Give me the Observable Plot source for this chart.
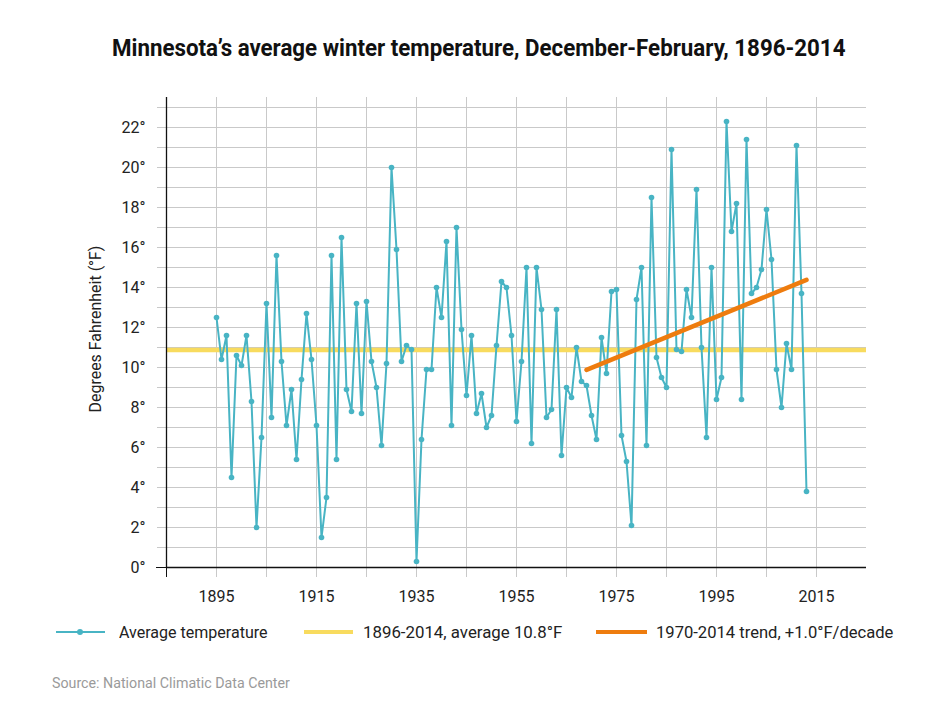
<!DOCTYPE html>
<html><head><meta charset="utf-8">
<script src="https://cdn.jsdelivr.net/npm/d3@7"></script>
<script src="https://cdn.jsdelivr.net/npm/@observablehq/plot@0.6"></script>
<style>
body{margin:0;background:#fff;font-family:Roboto,"DejaVu Sans Condensed",sans-serif;color:#222;}
#wrap{position:relative;width:952px;height:714px;overflow:hidden;background:#fff}
#chart{position:absolute;top:0;left:0}
#title{position:absolute;top:35px;left:112px;font-weight:bold;font-size:23px;line-height:28px;color:#111;white-space:nowrap;transform-origin:0 50%}
#ylabel{position:absolute;left:95px;top:329px;font-size:17px;line-height:20px;white-space:nowrap}
.lg{position:absolute;top:621px;height:22px;line-height:22px;font-size:17px;white-space:nowrap;transform-origin:0 50%}
.sw{position:absolute;height:4px;top:630px}
#dot{position:absolute;width:6px;height:6px;border-radius:3px;top:629px;left:77px}
#source{position:absolute;left:52px;top:673px;font-size:15px;line-height:20px;color:#9a9a9a;white-space:nowrap;transform-origin:0 50%}
</style></head>
<body>
<div id="wrap">
<div id="chart"></div>
<div id="title">Minnesota’s average winter temperature, December-February, 1896-2014</div>
<div id="ylabel">Degrees Fahrenheit (°F)</div>
<div class="sw" id="sw1" style="left:56px;width:49px;height:2px;top:631px"></div>
<div id="dot"></div>
<div class="lg" id="lg1" style="left:119px">Average temperature</div>
<div class="sw" id="sw2" style="left:304px;width:49px"></div>
<div class="lg" id="lg2" style="left:363px">1896-2014, average 10.8°F</div>
<div class="sw" id="sw3" style="left:596px;width:51px"></div>
<div class="lg" id="lg3" style="left:656px">1970-2014 trend, +1.0°F/decade</div>
<div id="source">Source: National Climatic Data Center</div>
</div>
<script>
const years = [1895,1896,1897,1898,1899,1900,1901,1902,1903,1904,1905,1906,1907,1908,1909,1910,1911,1912,1913,1914,
1915,1916,1917,1918,1919,1920,1921,1922,1923,1924,1925,1926,1927,1928,1929,1930,1931,1932,1933,1934,
1935,1936,1937,1938,1939,1940,1941,1942,1943,1944,1945,1946,1947,1948,1949,1950,1951,1952,1953,1954,
1955,1956,1957,1958,1959,1960,1961,1962,1963,1964,1965,1966,1967,1968,1969,1970,1971,1972,1973,1974,
1975,1976,1977,1978,1979,1980,1981,1982,1983,1984,1985,1986,1987,1988,1989,1990,1991,1992,1993,1994,
1995,1996,1997,1998,1999,2000,2001,2002,2003,2004,2005,2006,2007,2008,2009,2010,2011,2012,2013];
const temps = [12.5,10.4,11.6,4.5,10.6,10.1,11.6,8.3,2.0,6.5,13.2,7.5,15.6,10.3,7.1,8.9,5.4,9.4,12.7,10.4,
7.1,1.5,3.5,15.6,5.4,16.5,8.9,7.8,13.2,7.7,13.3,10.3,9.0,6.1,10.2,20.0,15.9,10.3,11.1,10.9,
0.3,6.4,9.9,9.9,14.0,12.5,16.3,7.1,17.0,11.9,8.6,11.6,7.7,8.7,7.0,7.6,11.1,14.3,14.0,11.6,
7.3,10.3,15.0,6.2,15.0,12.9,7.5,7.9,12.9,5.6,9.0,8.5,11.0,9.3,9.1,7.6,6.4,11.5,9.7,13.8,
13.9,6.6,5.3,2.1,13.4,15.0,6.1,18.5,10.5,9.5,9.0,20.9,10.9,10.8,13.9,12.5,18.9,11.0,6.5,15.0,
8.4,9.5,22.3,16.8,18.2,8.4,21.4,13.7,14.0,14.9,17.9,15.4,9.9,8.0,11.2,9.9,21.1,13.7,3.8];
const averageValue = [10.87];
const trendYears = [1969, 2013];
const trendValues = [9.88, 14.38];
const xGridYears = [1895,1905,1915,1925,1935,1945,1955,1965,1975,1985,1995,2005,2015];
const xLabelYears = [1895,1915,1935,1955,1975,1995,2015];
const yGridTemps = [1,2,3,4,5,6,7,8,9,10,11,12,13,14,15,16,17,18,19,20,21,22,23];
const yLabelTemps = [0,2,4,6,8,10,12,14,16,18,20,22];

const teal = "#48b4c4", yellow = "#f8db5e", orange = "#ee7c0e", grid = "#c9c9c9";
document.getElementById("sw1").style.background = teal;
document.getElementById("dot").style.background = teal;
document.getElementById("sw2").style.background = yellow;
document.getElementById("sw3").style.background = orange;

const series = years.map((y, i) => ({year: y, temp: temps[i]}));
const trend = trendYears.map((y, i) => ({year: y, temp: trendValues[i]}));

const chart = Plot.plot({
  width: 952, height: 620,
  marginTop: 97, marginBottom: 53, marginLeft: 166, marginRight: 86,
  x: {domain: [1885, 2025]},
  y: {domain: [0, 23.5]},
  style: {fontFamily: 'Roboto,"DejaVu Sans Condensed",sans-serif', fontSize: "16px", color: "#222", background: "transparent"},
  marks: [
    Plot.gridX(xGridYears, {stroke: grid, strokeOpacity: 1, strokeWidth: 1}),
    Plot.gridY(yGridTemps, {stroke: grid, strokeOpacity: 1, strokeWidth: 1}),
    Plot.axisY({ticks: yGridTemps, tickSize: 9, stroke: grid, strokeOpacity: 1, tickFormat: () => "", label: null}),
    Plot.axisX({ticks: xGridYears, tickSize: 10, stroke: grid, strokeOpacity: 1, tickFormat: () => "", label: null}),
    Plot.axisY({ticks: yLabelTemps, tickSize: 0, tickPadding: 21, tickFormat: d => d + "°", label: null, fontSize: 16}),
    Plot.axisX({ticks: xLabelYears, tickSize: 0, tickPadding: 23, tickFormat: d => String(d), label: null, fontSize: 16}),
    Plot.axisY({ticks: [0], tickSize: 10, stroke: "#111", strokeOpacity: 1, tickFormat: () => "", label: null}),
    Plot.axisX({ticks: [1885], tickSize: 10, stroke: "#111", strokeOpacity: 1, tickFormat: () => "", label: null}),
    Plot.ruleY(averageValue, {stroke: yellow, strokeWidth: 4.5}),
    Plot.ruleX([1885], {stroke: "#111", strokeWidth: 1.3}),
    Plot.ruleY([0], {stroke: "#111", strokeWidth: 1.3}),
    Plot.line(series, {x: "year", y: "temp", stroke: teal, strokeWidth: 2}),
    Plot.dot(series, {x: "year", y: "temp", r: 2.8, fill: teal}),
    Plot.line(trend, {x: "year", y: "temp", stroke: orange, strokeWidth: 4.5})
  ]
});
document.getElementById("chart").appendChild(chart);

function fitX(id, w) {
  const el = document.getElementById(id);
  el.style.transform = `scaleX(${w / el.offsetWidth})`;
}
fitX("title", 733);
fitX("lg1", 149);
fitX("lg2", 199);
fitX("lg3", 237);
fitX("source", 238);
const yl = document.getElementById("ylabel");
const k = 167 / yl.offsetWidth;
yl.style.transform = `translate(-50%,-50%) rotate(-90deg) scaleX(${k})`;
</script>
</body></html>
